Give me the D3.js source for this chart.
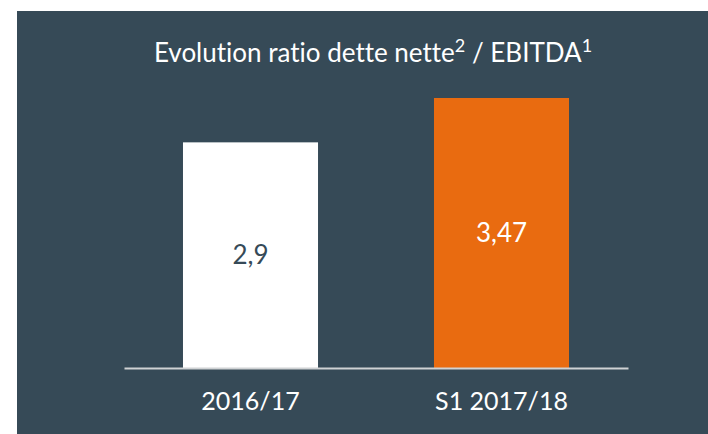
<!DOCTYPE html>
<html>
<head>
<meta charset="utf-8">
<script src="https://cdn.jsdelivr.net/npm/d3@7"></script>
<style>
  html, body { margin: 0; padding: 0; background: #fff; }
  text { font-family: Lato, "Open Sans", sans-serif; font-variant-ligatures: none; }
</style>
</head>
<body>
<div id="chart"></div>
<script>
// data
var categories = ["2016/17", "S1 2017/18"];
var values = [2.9, 3.47];
var valueLabels = ["2,9", "3,47"];
var barColors = ["#ffffff", "#e96b10"];
var labelColors = ["#364a57", "#ffffff"];

var svgWidth = 708;
var svgHeight = 434;
var bg = "#364a57";

var svg = d3.select("#chart")
  .append("svg")
  .attr("width", svgWidth)
  .attr("height", svgHeight);

// dark panel
svg.append("rect")
  .attr("x", 17)
  .attr("y", 11)
  .attr("width", svgWidth - 17)
  .attr("height", svgHeight - 11)
  .attr("fill", bg);

// title with superscripts
var title = svg.append("text")
  .attr("x", 373)
  .attr("y", 62)
  .attr("text-anchor", "middle")
  .attr("fill", "#fff")
  .attr("font-size", 26);
title.append("tspan").text("Evolution ratio dette nette");
title.append("tspan").attr("font-size", 18).attr("dy", -10).text("2");
title.append("tspan").attr("dy", 10).text(" / EBITDA");
title.append("tspan").attr("font-size", 18).attr("dy", -10).text("1");

// scales
var x = d3.scaleBand()
  .domain(categories)
  .range([124, 628])
  .paddingInner(0.462)
  .paddingOuter(0.235);

var y = d3.scaleLinear()
  .domain([0, 3.47])
  .range([368, 98]);

var chartData = categories.map(function(c, i) {
  return { cat: c, value: values[i], label: valueLabels[i], fill: barColors[i], tc: labelColors[i] };
});

svg.selectAll("rect.bar")
  .data(chartData)
  .enter()
  .append("rect")
  .attr("class", "bar")
  .attr("x", d => x(d.cat))
  .attr("y", d => y(d.value))
  .attr("width", x.bandwidth())
  .attr("height", d => y(0) - y(d.value))
  .attr("fill", d => d.fill);

// value labels in the middle of each bar
svg.selectAll("text.val")
  .data(chartData)
  .enter()
  .append("text")
  .attr("class", "val")
  .attr("x", d => x(d.cat) + x.bandwidth() / 2)
  .attr("y", d => (y(d.value) + y(0)) / 2 + 9)
  .attr("text-anchor", "middle")
  .attr("font-size", 26)
  .attr("fill", d => d.tc)
  .text(d => d.label);

// baseline axis
var xAxis = d3.axisBottom(x).tickSize(0).tickPadding(24);
var axisG = svg.append("g")
  .attr("transform", "translate(0," + y(0) + ")")
  .call(xAxis);
axisG.select(".domain")
  .attr("stroke", "#cfd2d4")
  .attr("stroke-width", 2);
axisG.selectAll(".tick text")
  .attr("fill", "#fff")
  .attr("font-size", 25)
  .attr("font-family", "Lato, 'Open Sans', sans-serif");
</script>
</body>
</html>
